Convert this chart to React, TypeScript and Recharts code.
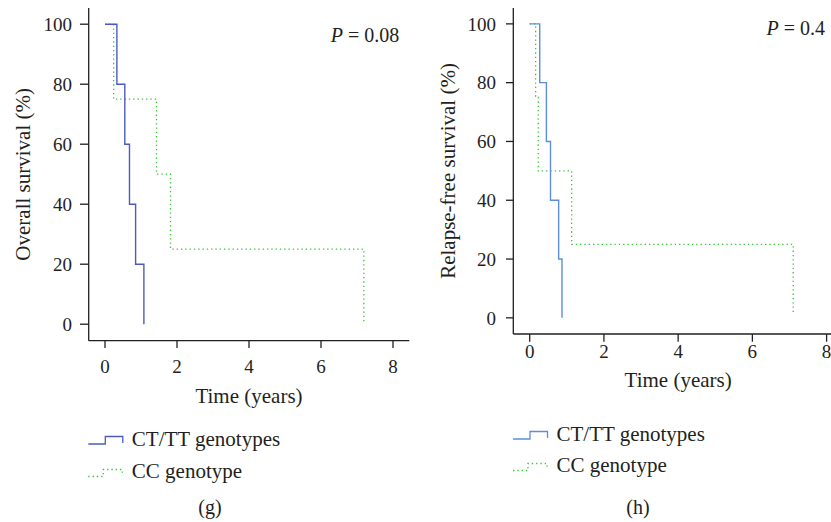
import { LineChart, Line, XAxis, YAxis, Label } from "recharts";

// Overall survival (g)
const osTimeCtTt = [0, 0.33, 0.55, 0.68, 0.85, 1.08];
const osSurvCtTt = [100, 80, 60, 40, 20, 0];
const osTimeCc = [0, 0.24, 1.43, 1.82, 7.19];
const osSurvCc = [100, 75, 50, 25, 1];

// Relapse-free survival (h)
const rfsTimeCtTt = [0, 0.27, 0.45, 0.56, 0.78, 0.87];
const rfsSurvCtTt = [100, 80, 60, 40, 20, 0];
const rfsTimeCc = [0, 0.16, 0.23, 1.13, 7.1];
const rfsSurvCc = [100, 75, 50, 25, 1];

const xTicks = [0, 2, 4, 6, 8];
const yTicks = [0, 20, 40, 60, 80, 100];
const seriesNames = ["CT/TT genotypes", "CC genotype"];

const toPoints = (t: number[], s: number[]) => t.map((x, i) => ({ t: x, s: s[i] }));

const INK = "#231f20";
const GREEN = "#2fc72f";
const DOTS = "1.3 3";
const FONT = "'Liberation Serif', serif";
const tickStyle = { fill: INK, fontSize: 19, fontFamily: FONT };

interface PanelProps {
  left: number;
  width: number;
  yWidth: number;
  xHeight: number;
  marginRight: number;
  xDomain: [number, number];
  xTickSize: number;
  xTickMargin: number;
  yTickSize: number;
  yTickMargin: number;
  yTitle: string;
  yTitleDx: number;
  xTitleOffset: number;
  blue: string;
  ctTt: { t: number; s: number }[];
  cc: { t: number; s: number }[];
}

function Panel(p: PanelProps) {
  return (
    <div style={{ position: "absolute", left: p.left, top: 0 }}>
      <LineChart
        width={p.width}
        height={420}
        margin={{ top: 8, right: p.marginRight, left: 0, bottom: 0 }}
      >
        <XAxis
          dataKey="t"
          type="number"
          domain={p.xDomain}
          allowDataOverflow
          ticks={xTicks}
          interval={0}
          height={p.xHeight}
          stroke={INK}
          strokeWidth={1.3}
          tickSize={p.xTickSize}
          tickMargin={p.xTickMargin}
          tick={tickStyle}
        >
          <Label
            value="Time (years)"
            position="insideTop"
            offset={p.xTitleOffset}
            fill={INK}
            fontSize={21}
            fontFamily={FONT}
          />
        </XAxis>
        {/* top and right axes close the box */}
        <XAxis
          xAxisId="top"
          orientation="top"
          type="number"
          domain={p.xDomain}
          height={0}
          tick={false}
          tickLine={false}
          stroke={INK}
          strokeWidth={1.3}
        />
        <YAxis
          type="number"
          domain={[-5.5, 105.4]}
          allowDataOverflow
          ticks={yTicks}
          interval={0}
          width={p.yWidth}
          stroke={INK}
          strokeWidth={1.3}
          tickSize={p.yTickSize}
          tickMargin={p.yTickMargin}
          tick={tickStyle}
        >
          <Label
            value={p.yTitle}
            angle={-90}
            position="center"
            dx={p.yTitleDx}
            fill={INK}
            fontSize={21}
            fontFamily={FONT}
          />
        </YAxis>
        <YAxis
          yAxisId="right"
          orientation="right"
          type="number"
          domain={[-5.5, 105.4]}
          width={0}
          tick={false}
          tickLine={false}
          stroke={INK}
          strokeWidth={1.3}
        />
        <Line
          data={p.cc}
          dataKey="s"
          type="stepAfter"
          stroke={GREEN}
          strokeWidth={1.3}
          strokeDasharray={DOTS}
          dot={false}
          isAnimationActive={false}
        />
        <Line
          data={p.ctTt}
          dataKey="s"
          type="stepAfter"
          stroke={p.blue}
          strokeWidth={1.4}
          dot={false}
          isAnimationActive={false}
        />
      </LineChart>
    </div>
  );
}

function LegendBlock(props: { x: number; y1: number; y2: number; blue: string }) {
  const { x, y1, y2, blue } = props;
  return (
    <g>
      <polyline
        points={`${x},${y1 + 5} ${x + 17},${y1 + 5} ${x + 17},${y1 - 2.5} ${x + 34.5},${y1 - 2.5} ${x + 34.5},${y1 + 4}`}
        fill="none"
        stroke={blue}
        strokeWidth={1.3}
      />
      <text x={x + 43.5} y={y1 + 7} fontSize={21} fill={INK}>
        {seriesNames[0]}
      </text>
      <polyline
        points={`${x},${y2 + 5.5} ${x + 15},${y2 + 5.5} ${x + 15},${y2 - 1.5} ${x + 34},${y2 - 1.5} ${x + 34},${y2 + 4}`}
        fill="none"
        stroke={GREEN}
        strokeWidth={1.3}
        strokeDasharray={DOTS}
      />
      <text x={x + 43.5} y={y2 + 7} fontSize={21} fill={INK}>
        {seriesNames[1]}
      </text>
    </g>
  );
}

export default function App() {
  return (
    <div
      style={{
        position: "fixed",
        left: 0,
        top: 0,
        width: 831,
        height: 522,
        overflow: "hidden",
        background: "#fff",
        fontFamily: FONT,
      }}
    >
      <Panel
        left={0}
        width={420}
        yWidth={88.7}
        xHeight={79.3}
        marginRight={10.7}
        xDomain={[-0.453, 8.453]}
        xTickSize={7.3}
        xTickMargin={11.5}
        yTickSize={8.7}
        yTickMargin={8}
        yTitle="Overall survival (%)"
        yTitleDx={-21.3}
        xTitleOffset={47}
        blue="#4a5bc0"
        ctTt={toPoints(osTimeCtTt, osSurvCtTt)}
        cc={toPoints(osTimeCc, osSurvCc)}
      />
      <Panel
        left={420}
        width={423}
        yWidth={93.3}
        xHeight={86}
        marginRight={0}
        xDomain={[-0.442, 8.442]}
        xTickSize={7.7}
        xTickMargin={2.8}
        yTickSize={7.3}
        yTickMargin={10}
        yTitle="Relapse-free survival (%)"
        yTitleDx={-18.7}
        xTitleOffset={38}
        blue="#5b8edb"
        ctTt={toPoints(rfsTimeCtTt, rfsSurvCtTt)}
        cc={toPoints(rfsTimeCc, rfsSurvCc)}
      />
      <svg
        width={831}
        height={522}
        style={{ position: "absolute", left: 0, top: 0, pointerEvents: "none" }}
      >
        <text x={399.3} y={41.6} textAnchor="end" fontSize={20} fill={INK}>
          <tspan fontStyle="italic">P</tspan> = 0.08
        </text>
        <text x={825} y={34.6} textAnchor="end" fontSize={20} fill={INK}>
          <tspan fontStyle="italic">P</tspan> = 0.4
        </text>
        <LegendBlock x={88.3} y1={439} y2={471} blue="#4a5bc0" />
        <LegendBlock x={513} y1={434} y2={465} blue="#5b8edb" />
        <text x={210} y={514} textAnchor="middle" fontSize={20} fill={INK}>
          (g)
        </text>
        <text x={638} y={514} textAnchor="middle" fontSize={20} fill={INK}>
          (h)
        </text>
      </svg>
    </div>
  );
}
